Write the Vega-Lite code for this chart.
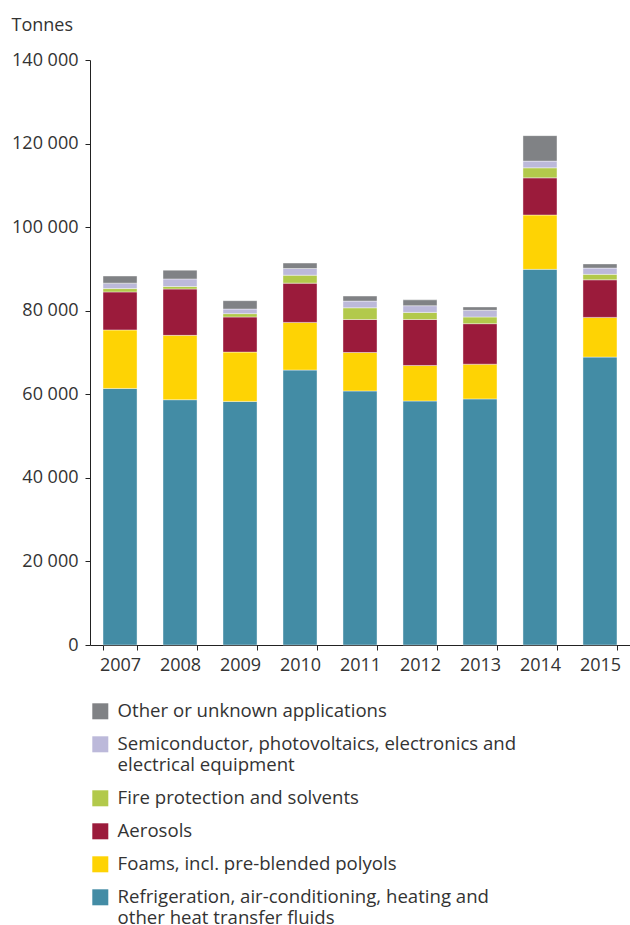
{
  "$schema": "https://vega.github.io/schema/vega-lite/v6.json",
  "width": 540,
  "height": 585,
  "autosize": {"type": "none"},
  "padding": {"left": 90, "top": 60, "right": 0, "bottom": 280},
  "background": "white",
  "config": {
    "font": "Open Sans",
    "view": {"stroke": null},
    "axis": {"labelFont": "Open Sans", "titleFont": "Open Sans", "labelColor": "#333333", "titleColor": "#333333"},
    "legend": {"labelFont": "Open Sans", "labelColor": "#333333"}
  },
  "data": {
    "values": [
      {"year": "2007", "cat": "Refrigeration", "rank": 5, "value": 61400},
      {"year": "2007", "cat": "Foams", "rank": 4, "value": 14000},
      {"year": "2007", "cat": "Aerosols", "rank": 3, "value": 9100},
      {"year": "2007", "cat": "Fire", "rank": 2, "value": 800},
      {"year": "2007", "cat": "Semiconductor", "rank": 1, "value": 1300},
      {"year": "2007", "cat": "Other", "rank": 0, "value": 1700},
      {"year": "2008", "cat": "Refrigeration", "rank": 5, "value": 58700},
      {"year": "2008", "cat": "Foams", "rank": 4, "value": 15400},
      {"year": "2008", "cat": "Aerosols", "rank": 3, "value": 11100},
      {"year": "2008", "cat": "Fire", "rank": 2, "value": 600},
      {"year": "2008", "cat": "Semiconductor", "rank": 1, "value": 1800},
      {"year": "2008", "cat": "Other", "rank": 0, "value": 2100},
      {"year": "2009", "cat": "Refrigeration", "rank": 5, "value": 58300},
      {"year": "2009", "cat": "Foams", "rank": 4, "value": 11800},
      {"year": "2009", "cat": "Aerosols", "rank": 3, "value": 8400},
      {"year": "2009", "cat": "Fire", "rank": 2, "value": 800},
      {"year": "2009", "cat": "Semiconductor", "rank": 1, "value": 1100},
      {"year": "2009", "cat": "Other", "rank": 0, "value": 2000},
      {"year": "2010", "cat": "Refrigeration", "rank": 5, "value": 65800},
      {"year": "2010", "cat": "Foams", "rank": 4, "value": 11400},
      {"year": "2010", "cat": "Aerosols", "rank": 3, "value": 9400},
      {"year": "2010", "cat": "Fire", "rank": 2, "value": 1900},
      {"year": "2010", "cat": "Semiconductor", "rank": 1, "value": 1600},
      {"year": "2010", "cat": "Other", "rank": 0, "value": 1300},
      {"year": "2011", "cat": "Refrigeration", "rank": 5, "value": 60800},
      {"year": "2011", "cat": "Foams", "rank": 4, "value": 9200},
      {"year": "2011", "cat": "Aerosols", "rank": 3, "value": 7900},
      {"year": "2011", "cat": "Fire", "rank": 2, "value": 2800},
      {"year": "2011", "cat": "Semiconductor", "rank": 1, "value": 1600},
      {"year": "2011", "cat": "Other", "rank": 0, "value": 1200},
      {"year": "2012", "cat": "Refrigeration", "rank": 5, "value": 58400},
      {"year": "2012", "cat": "Foams", "rank": 4, "value": 8500},
      {"year": "2012", "cat": "Aerosols", "rank": 3, "value": 11000},
      {"year": "2012", "cat": "Fire", "rank": 2, "value": 1700},
      {"year": "2012", "cat": "Semiconductor", "rank": 1, "value": 1600},
      {"year": "2012", "cat": "Other", "rank": 0, "value": 1400},
      {"year": "2013", "cat": "Refrigeration", "rank": 5, "value": 58900},
      {"year": "2013", "cat": "Foams", "rank": 4, "value": 8300},
      {"year": "2013", "cat": "Aerosols", "rank": 3, "value": 9700},
      {"year": "2013", "cat": "Fire", "rank": 2, "value": 1600},
      {"year": "2013", "cat": "Semiconductor", "rank": 1, "value": 1600},
      {"year": "2013", "cat": "Other", "rank": 0, "value": 800},
      {"year": "2014", "cat": "Refrigeration", "rank": 5, "value": 89900},
      {"year": "2014", "cat": "Foams", "rank": 4, "value": 13000},
      {"year": "2014", "cat": "Aerosols", "rank": 3, "value": 8900},
      {"year": "2014", "cat": "Fire", "rank": 2, "value": 2400},
      {"year": "2014", "cat": "Semiconductor", "rank": 1, "value": 1600},
      {"year": "2014", "cat": "Other", "rank": 0, "value": 6100},
      {"year": "2015", "cat": "Refrigeration", "rank": 5, "value": 68900},
      {"year": "2015", "cat": "Foams", "rank": 4, "value": 9500},
      {"year": "2015", "cat": "Aerosols", "rank": 3, "value": 9000},
      {"year": "2015", "cat": "Fire", "rank": 2, "value": 1300},
      {"year": "2015", "cat": "Semiconductor", "rank": 1, "value": 1500},
      {"year": "2015", "cat": "Other", "rank": 0, "value": 1000}
    ]
  },
  "mark": {"type": "bar", "stroke": "white", "strokeWidth": 0.4},
  "encoding": {
    "x": {
      "field": "year", "type": "ordinal",
      "scale": {"paddingInner": 0.433, "paddingOuter": 0.217},
      "axis": {
        "title": null, "labelAngle": 0, "labelFontSize": 18, "labelPadding": 6,
        "tickBand": "extent", "tickSize": 5, "tickColor": "#222222", "domainColor": "#222222", "domainWidth": 1, "tickWidth": 1
      }
    },
    "y": {
      "field": "value", "type": "quantitative", "stack": "zero",
      "scale": {"domain": [0, 140000], "nice": false},
      "axis": {
        "title": "Tonnes", "titleAngle": 0, "titleAlign": "left", "titleBaseline": "middle",
        "titleX": -79, "titleY": -35, "titleFontSize": 18, "titleFontWeight": "normal",
        "values": [0, 20000, 40000, 60000, 80000, 100000, 120000, 140000],
        "labelExpr": "replace(format(datum.value, ','), ',', ' ')",
        "labelFontSize": 18, "labelPadding": 7, "tickSize": 5, "grid": false,
        "tickColor": "#222222", "domainColor": "#222222", "domainWidth": 1, "tickWidth": 1
      }
    },
    "color": {
      "field": "cat", "type": "nominal",
      "scale": {
        "domain": ["Other", "Semiconductor", "Fire", "Aerosols", "Foams", "Refrigeration"],
        "range": ["#808285", "#bcb9da", "#b2c94b", "#9b1b3b", "#fed304", "#438ca5"]
      },
      "legend": {
        "title": null, "orient": "none", "legendX": 1, "legendY": 642, "direction": "vertical",
        "symbolType": "square", "symbolSize": 256, "symbolStrokeWidth": 0, "symbolOpacity": 1,
        "labelFontSize": 18.6, "labelOffset": 8, "labelLimit": 700, "rowPadding": 14, "padding": 0,
        "encode": {"labels": {"update": {"lineHeight": {"value": 22}}}},
        "labelExpr": "datum.label == 'Other' ? 'Other or unknown applications' : datum.label == 'Semiconductor' ? ['Semiconductor, photovoltaics, electronics and', 'electrical equipment'] : datum.label == 'Fire' ? 'Fire protection and solvents' : datum.label == 'Foams' ? 'Foams, incl. pre-blended polyols' : datum.label == 'Refrigeration' ? ['Refrigeration, air-conditioning, heating and', 'other heat transfer fluids'] : datum.label"
      }
    },
    "order": {"field": "rank", "type": "quantitative", "sort": "descending"}
  }
}
